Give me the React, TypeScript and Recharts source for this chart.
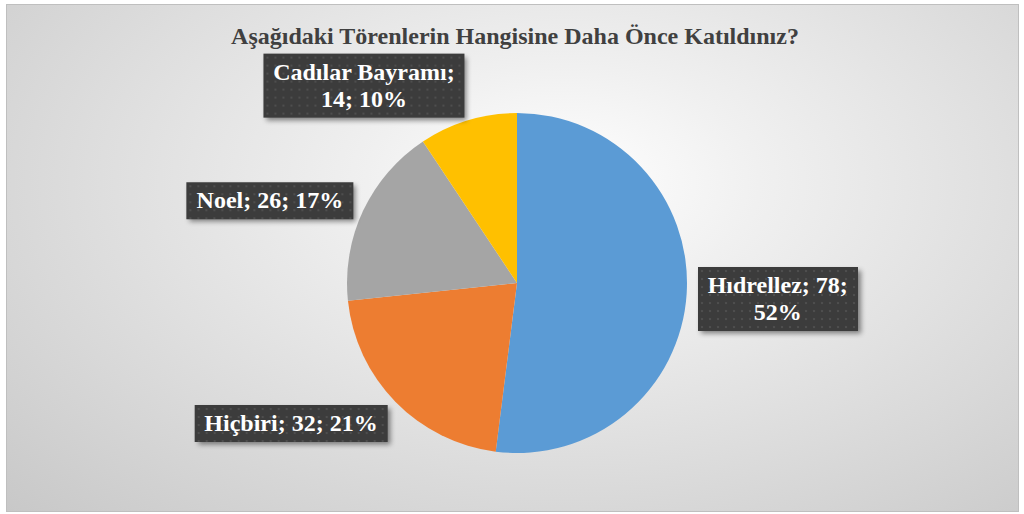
import { Cell, Pie, PieChart } from "recharts";

const TITLE = "Aşağıdaki Törenlerin Hangisine Daha Önce Katıldınız?";
const categories = ["Hıdrellez", "Hiçbiri", "Noel", "Cadılar Bayramı"];
const counts = [78, 32, 26, 14];
const percents = [52, 21, 17, 10];
const COLORS = ["#5b9bd5", "#ed7d31", "#a5a5a5", "#ffc000"];

const data = categories.map((name, i) => ({ name, value: counts[i], pct: percents[i] }));

const RADIAN = Math.PI / 180;
const FONT = '"Liberation Serif", "Times New Roman", serif';
const LABEL_SIZE = 24;
const LABEL_MAX = 188;

let ctx: CanvasRenderingContext2D | null = null;
function wrap(text: string): string[] {
  if (!ctx) ctx = document.createElement("canvas").getContext("2d");
  if (!ctx) return [text];
  ctx.font = `bold ${LABEL_SIZE}px ${FONT}`;
  const words = text.split(" ");
  const lines: string[] = [];
  let cur = "";
  for (const w of words) {
    const next = cur ? `${cur} ${w}` : w;
    if (cur && ctx.measureText(next).width > LABEL_MAX) {
      lines.push(cur);
      cur = w;
    } else cur = next;
  }
  if (cur) lines.push(cur);
  return lines;
}

// Excel-like outside-end data label: a dark dotted box pushed away from the slice
function renderLabel(props: any) {
  const { cx, cy, midAngle, outerRadius, payload } = props;
  const r = outerRadius + 11;
  const xs = Math.cos(-midAngle * RADIAN);
  const ys = Math.sin(-midAngle * RADIAN);
  const px = cx + r * xs;
  const py = cy + r * ys;
  const tx = xs >= 0 ? 0 : -100;
  const ty = -((1 - ys) / 2) * 90;
  const lines = wrap(`${payload.name}; ${payload.value}; ${payload.pct}%`);
  return (
    <foreignObject x={px - 400} y={py - 200} width={800} height={400} style={{ overflow: "visible" }}>
      <div style={{ position: "relative", width: 800, height: 400 }}>
        <div
          style={{
            position: "absolute",
            left: 400,
            top: 200,
            transform: `translate(${tx}%, ${ty}%)`,
            padding: "5px 10px",
            background:
              "radial-gradient(circle, rgba(255,255,255,0.09) 1px, transparent 1.6px) 0 0 / 8px 8px, #3c3c3c",
            boxShadow: "3px 3px 5px rgba(0,0,0,0.45)",
            color: "#ffffff",
            fontFamily: FONT,
            fontWeight: "bold",
            fontSize: LABEL_SIZE,
            lineHeight: "27px",
            textAlign: "center",
            width: "max-content",
            whiteSpace: "nowrap",
          }}
        >
          {lines.map((l, i) => (
            <div key={i}>{l}</div>
          ))}
        </div>
      </div>
    </foreignObject>
  );
}

export default function App() {
  return (
    <div style={{ position: "relative", width: 1024, height: 514, background: "#ffffff" }}>
      <style>{"body{margin:0}"}</style>
      <div
        style={{
          position: "absolute",
          left: 6,
          top: 4,
          width: 1011,
          height: 506,
          border: "1px solid #bfbfbf",
          background: "radial-gradient(ellipse farthest-corner at 55% 35%, #ffffff 0%, #f0f0f0 25%, #c8c8c8 100%)",
        }}
      />
      <div
        style={{
          position: "absolute",
          left: 3,
          top: 23,
          width: 1024,
          textAlign: "center",
          fontFamily: FONT,
          fontWeight: "bold",
          fontSize: 24,
          color: "#404040",
        }}
      >
        {TITLE}
      </div>
      <div style={{ position: "absolute", left: 0, top: 0 }}>
        <PieChart width={1024} height={514} margin={{ top: 0, right: 0, bottom: 0, left: 0 }}>
          <Pie
            data={data}
            dataKey="value"
            nameKey="name"
            cx={517}
            cy={283}
            outerRadius={170}
            startAngle={90}
            endAngle={-270}
            stroke="none"
            label={renderLabel}
            labelLine={false}
            isAnimationActive={false}
          >
            {data.map((d, i) => (
              <Cell key={d.name} fill={COLORS[i]} />
            ))}
          </Pie>
        </PieChart>
      </div>
    </div>
  );
}
